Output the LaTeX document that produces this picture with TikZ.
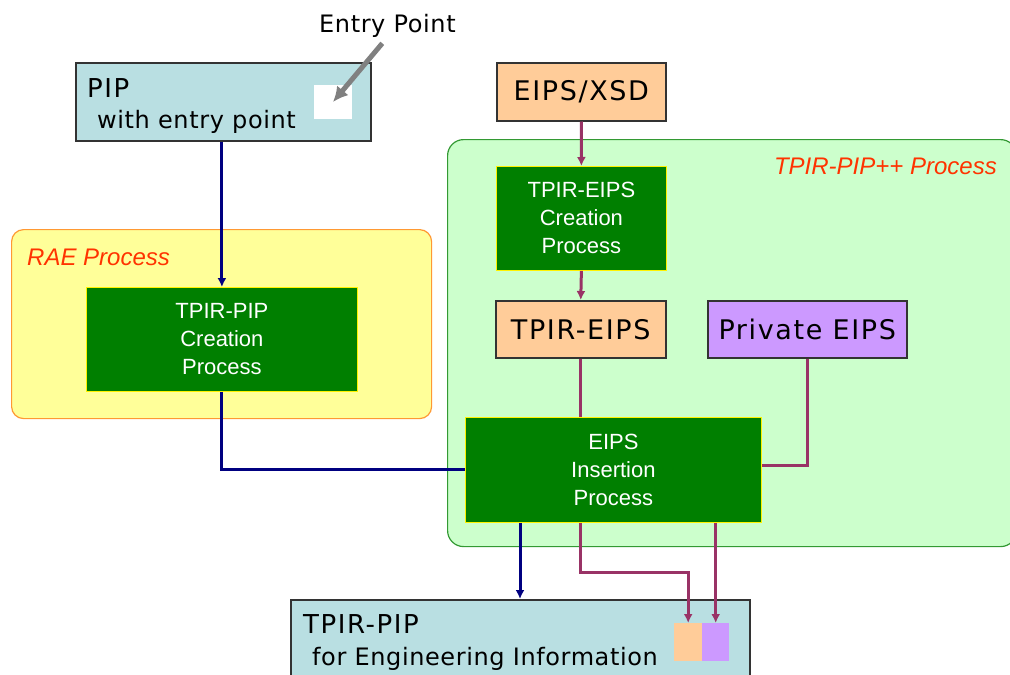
\documentclass[tikz,border=0pt]{standalone}
\usepackage{fontspec}
\setmainfont[LetterSpace=2.5]{DejaVu Sans}
\newfontfamily\bigfont[LetterSpace=6]{DejaVu Sans}
\newfontfamily\arialfont{Liberation Sans}
\usepackage{xcolor}
\usepackage{tikz}
\usetikzlibrary{arrows,arrows.meta,positioning,calc}

\definecolor{pipblue}{HTML}{B9DFE2}
\definecolor{eipsorange}{HTML}{FFCC99}
\definecolor{privpurple}{HTML}{CC99FF}
\definecolor{procgreen}{HTML}{007F00}
\definecolor{ppfill}{HTML}{CCFFCC}
\definecolor{ppborder}{HTML}{339933}
\definecolor{raefill}{HTML}{FFFF99}
\definecolor{raeborder}{HTML}{FF9933}
\definecolor{tagred}{HTML}{FF3300}
\definecolor{navyline}{HTML}{000080}
\definecolor{maroonline}{HTML}{993366}

\begin{document}
\begin{tikzpicture}[x=1pt, y=-1pt, >={Latex[length=9pt,width=9pt]}]
    \tikzstyle{doc} = [rectangle, draw=black!80, line width=1.5pt, anchor=north west, inner sep=0pt, font=\bigfont\fontsize{27}{30}\selectfont]
    \tikzstyle{proc} = [rectangle, draw=yellow, line width=0.8pt, fill=procgreen, text=white, anchor=north west, inner sep=0pt, align=center, font=\arialfont\fontsize{22}{28}\selectfont]
    \tikzstyle{region} = [rectangle, rounded corners=16pt, line width=1.2pt, anchor=north west, inner sep=0pt]
    \tikzstyle{tag} = [inner sep=0pt, text=tagred, font=\arialfont\itshape\fontsize{24}{28}\selectfont]
    \tikzstyle{txt} = [inner sep=0pt, anchor=base west, font=\fontsize{24}{28}\selectfont]
    \tikzstyle{navy} = [draw=navyline, line width=3pt]
    \tikzstyle{maroon} = [draw=maroonline, line width=3pt]

    \useasboundingbox (0,0) rectangle (1010,675);
    \clip (0,0) rectangle (1010,675);

    % process areas
    \node [region, draw=raeborder, fill=raefill, minimum width=420, minimum height=189, rounded corners=12pt] (rae) at (11,229) {};
    \node [region, draw=ppborder, fill=ppfill, minimum width=569, minimum height=407] (tpp) at (447,139) {};
    \node [tag, anchor=base west] (raetag) at (27,265) {RAE Process};
    \node [tag, anchor=base east] (tpptag) at (997,174) {TPIR-PIP++ Process};

    % PIP with entry point
    \node [doc, fill=pipblue, minimum width=295, minimum height=78] (pip) at (75,62) {};
    \node [txt, font=\bigfont\fontsize{26}{30}\selectfont] (piptitle) at (87,97) {PIP};
    \node [txt] (pipsub) at (97,128) {with entry point};
    \node [fill=white, minimum width=38, minimum height=34, inner sep=0pt] (entry) at (333,102) {};
    \node [txt] (entrylbl) at (319,32) {Entry Point};
    \draw [-{Latex[length=15pt,width=15pt]}, draw=black!50, line width=5pt, shorten <=8pt] (entrylbl.south) -- (entry.center);

    % boxes
    \node [doc, fill=eipsorange, minimum width=169, minimum height=58] (xsd) at (496,62) {EIPS/XSD};
    \node [proc, minimum width=170, minimum height=104] (eipscreate) at (496,166) {TPIR-EIPS\\Creation\\Process};
    \node [doc, fill=eipsorange, minimum width=170, minimum height=57] (tpireips) at (495,300) {TPIR-EIPS};
    \node [doc, fill=privpurple, minimum width=199, minimum height=57] (priv) at (707,300) {Private EIPS};
    \node [proc, minimum width=296, minimum height=105] (insert) at (465,417) {EIPS\\Insertion\\Process};
    \node [proc, minimum width=271, minimum height=104] (pipcreate) at (86,287) {TPIR-PIP\\Creation\\Process};

    % TPIR-PIP for engineering information
    \node [doc, fill=pipblue, minimum width=459, minimum height=90] (tpirpip) at (290,599) {};
    \node [txt, font=\bigfont\fontsize{26}{30}\selectfont] (tpirtitle) at (303,633) {TPIR-PIP};
    \node [txt] (tpirsub) at (312,665) {for Engineering Information};
    \node [fill=eipsorange, minimum width=28, minimum height=38, inner sep=0pt, anchor=north west] (slota) at (674,623) {};
    \node [fill=privpurple, minimum width=27, minimum height=38, inner sep=0pt, anchor=north west] (slotb) at (702,623) {};

    % connectors
    \draw [navy, ->] (pip.south -| pipcreate.north) -- (pipcreate.north);
    \draw [navy] (pipcreate.south) |- (insert.west);
    \draw [navy, ->] ([xshift=55pt]insert.south west) -- ([xshift=55pt]insert.south west |- tpirpip.north);

    \draw [maroon, ->] (xsd.south) -- (eipscreate.north);
    \draw [maroon, ->] (eipscreate.south) -- (tpireips.north);
    \draw [maroon] (tpireips.south) -- (tpireips.south |- insert.north);
    \draw [maroon] (priv.south) |- ([yshift=4pt]insert.east);
    \draw [maroon, ->] (tpireips.south |- insert.south) -- ++(0,50) -| (slota.north);
    \draw [maroon, ->] (slotb.north |- insert.south) -- (slotb.north);
\end{tikzpicture}
\end{document}
